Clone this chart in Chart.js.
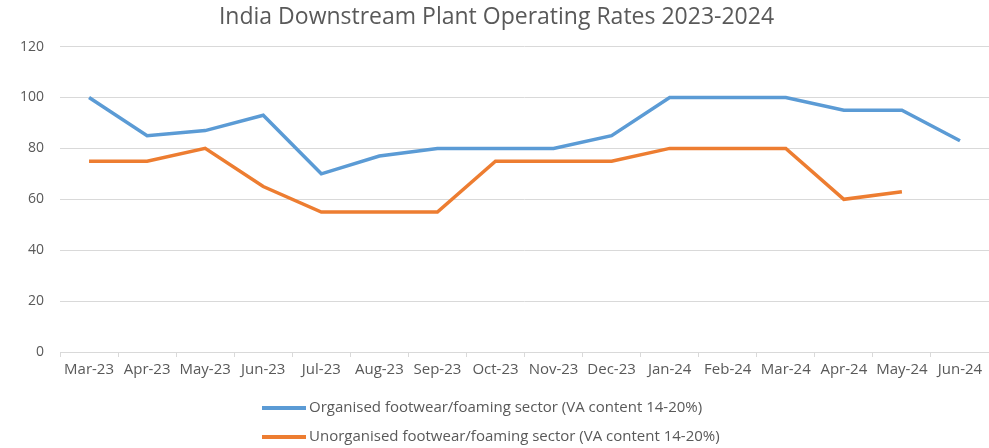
<!DOCTYPE html>
<html>
<head>
<meta charset="utf-8">
<script src="https://cdn.jsdelivr.net/npm/chart.js@4"></script>
<style>
  html, body { margin: 0; padding: 0; background: #fff; }
  #wrap { width: 989px; height: 448px; }
</style>
</head>
<body>
<div id="wrap"><canvas id="myChart"></canvas></div>
<script>
const months = ['Mar-23', 'Apr-23', 'May-23', 'Jun-23', 'Jul-23', 'Aug-23', 'Sep-23', 'Oct-23',
    'Nov-23', 'Dec-23', 'Jan-24', 'Feb-24', 'Mar-24', 'Apr-24', 'May-24', 'Jun-24'];
const organised = [100, 85, 87, 93, 70, 77, 80, 80, 80, 85, 100, 100, 100, 95, 95, 83];
const unorganised = [75, 75, 80, 65, 55, 55, 55, 75, 75, 75, 80, 80, 80, 60, 63, null];
const yTicks = [0, 20, 40, 60, 80, 100, 120];

const grey = '#595959';
const font = "'Open Sans', sans-serif";

// legend drawn as two stacked rows, left aligned like the Excel original
const stackedLegend = {
    id: 'stackedLegend',
    afterDraw(chart) {
        const c = chart.ctx;
        c.save();
        c.font = '15px ' + font;
        c.fillStyle = grey;
        c.textBaseline = 'middle';
        chart.data.datasets.forEach((ds, i) => {
            const y = 408 + i * 29;
            c.strokeStyle = ds.borderColor;
            c.lineWidth = 4;
            c.beginPath();
            c.moveTo(262, y);
            c.lineTo(306, y);
            c.stroke();
            c.fillText(ds.label, 309, y);
        });
        c.restore();
    }
};

const ctx = document.getElementById('myChart');
new Chart(ctx, {
    type: 'line',
    data: {
        labels: months,
        datasets: [
            {
                label: 'Organised footwear/foaming sector (VA content 14-20%)',
                data: organised,
                borderColor: '#5b9bd5',
                backgroundColor: '#5b9bd5',
                borderWidth: 3.5,
                pointRadius: 0,
                tension: 0
            },
            {
                label: 'Unorganised footwear/foaming sector (VA content 14-20%)',
                data: unorganised,
                borderColor: '#ed7d31',
                backgroundColor: '#ed7d31',
                borderWidth: 3.5,
                pointRadius: 0,
                tension: 0
            }
        ]
    },
    options: {
        responsive: true,
        maintainAspectRatio: false,
        animation: false,
        layout: { padding: { left: 4, right: 0, top: 4, bottom: 65 } },
        plugins: {
            legend: { display: false },
            tooltip: { enabled: false },
            title: {
                display: true,
                text: 'India Downstream Plant Operating Rates 2023-2024',
                color: grey,
                font: { family: font, size: 23, weight: 'normal' },
                padding: { top: 0, bottom: 15 }
            }
        },
        scales: {
            x: {
                offset: true,
                grid: { offset: true, drawOnChartArea: false, drawTicks: true, tickLength: 5, color: '#d9d9d9' },
                border: { display: true, color: '#d9d9d9', width: 1 },
                ticks: { color: grey, font: { family: font, size: 15 }, maxRotation: 0, autoSkip: false, padding: 4 }
            },
            y: {
                min: 0,
                max: 120,
                afterBuildTicks: axis => { axis.ticks = yTicks.map(v => ({ value: v })); },
                grid: { color: '#d9d9d9', drawTicks: false },
                border: { display: false },
                ticks: { color: grey, font: { family: font, size: 14 }, padding: 16 }
            }
        }
    },
    plugins: [stackedLegend]
});
</script>
</body>
</html>
